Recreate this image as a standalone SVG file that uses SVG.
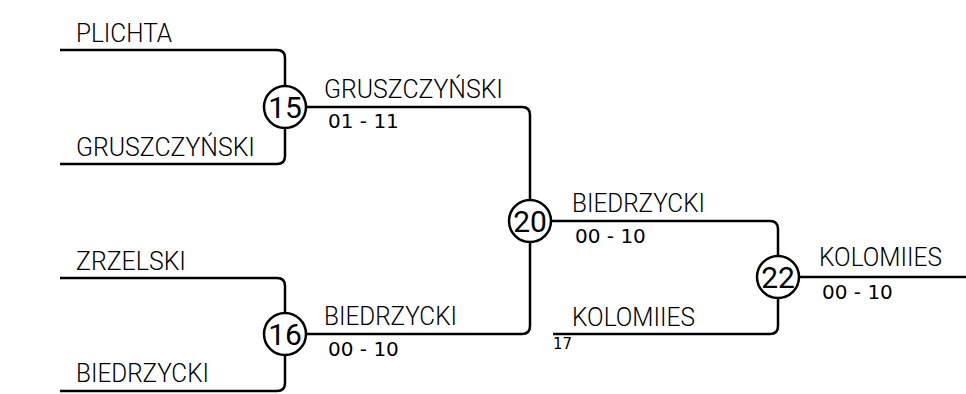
<svg xmlns="http://www.w3.org/2000/svg" width="966" height="394" viewBox="0 0 966 394">
<style>
.ln{fill:none;stroke:#000;stroke-width:2.5;stroke-linejoin:round}
.nm{font-family:Roboto,"Liberation Sans",sans-serif;font-weight:300;font-size:25px;fill:#000}
.sc{font-family:"DejaVu Sans",sans-serif;font-size:20px;fill:#000}
.sm{font-family:"DejaVu Sans",sans-serif;font-size:15px;fill:#000}
.cr{fill:#fff;stroke:#000;stroke-width:2.5}
.cn{font-family:Roboto,"Liberation Sans",sans-serif;font-size:30px;fill:#000;text-anchor:middle}
</style>
<rect width="966" height="394" fill="#fff"/>
<g id="connectors">
<path class="ln" d="M60,50 H277 Q285,50 285,58 V107"/>
<path class="ln" d="M60,164 H277 Q285,164 285,156 V107"/>
<path class="ln" d="M60,278 H277 Q285,278 285,286 V334"/>
<path class="ln" d="M60,391 H277 Q285,391 285,383 V334"/>
<path class="ln" d="M285,107 H522 Q530,107 530,115 V221"/>
<path class="ln" d="M285,334 H522 Q530,334 530,326 V221"/>
<path class="ln" d="M530,221 H770 Q778,221 778,229 V277"/>
<path class="ln" d="M553,334 H770 Q778,334 778,326 V277"/>
<path class="ln" d="M778,277 H966"/>
</g>
<g id="labels">
<text class="nm" x="76" y="42" textLength="96" lengthAdjust="spacingAndGlyphs">PLICHTA</text>
<text class="nm" x="76" y="156" textLength="179" lengthAdjust="spacingAndGlyphs">GRUSZCZYŃSKI</text>
<text class="nm" x="76" y="270" textLength="110" lengthAdjust="spacingAndGlyphs">ZRZELSKI</text>
<text class="nm" x="76" y="382" textLength="133" lengthAdjust="spacingAndGlyphs">BIEDRZYCKI</text>
<text class="nm" x="324" y="98" textLength="179" lengthAdjust="spacingAndGlyphs">GRUSZCZYŃSKI</text>
<text class="sc" x="328" y="128">01 - 11</text>
<text class="nm" x="324" y="325" textLength="133" lengthAdjust="spacingAndGlyphs">BIEDRZYCKI</text>
<text class="sc" x="328" y="356">00 - 10</text>
<text class="nm" x="572" y="212" textLength="133" lengthAdjust="spacingAndGlyphs">BIEDRZYCKI</text>
<text class="sc" x="575" y="243">00 - 10</text>
<text class="nm" x="572" y="326" textLength="123" lengthAdjust="spacingAndGlyphs">KOLOMIIES</text>
<text class="sm" x="553" y="349">17</text>
<text class="nm" x="819" y="266" textLength="123" lengthAdjust="spacingAndGlyphs">KOLOMIIES</text>
<text class="sc" x="822" y="299">00 - 10</text>
</g>
<g id="match15"><circle class="cr" cx="285" cy="107" r="21"/><text class="cn" x="285" y="118">15</text></g>
<g id="match16"><circle class="cr" cx="285" cy="334" r="21"/><text class="cn" x="285" y="345">16</text></g>
<g id="match20"><circle class="cr" cx="530" cy="221" r="21"/><text class="cn" x="530" y="232">20</text></g>
<g id="match22"><circle class="cr" cx="778" cy="277" r="21"/><text class="cn" x="778" y="288">22</text></g>
</svg>
